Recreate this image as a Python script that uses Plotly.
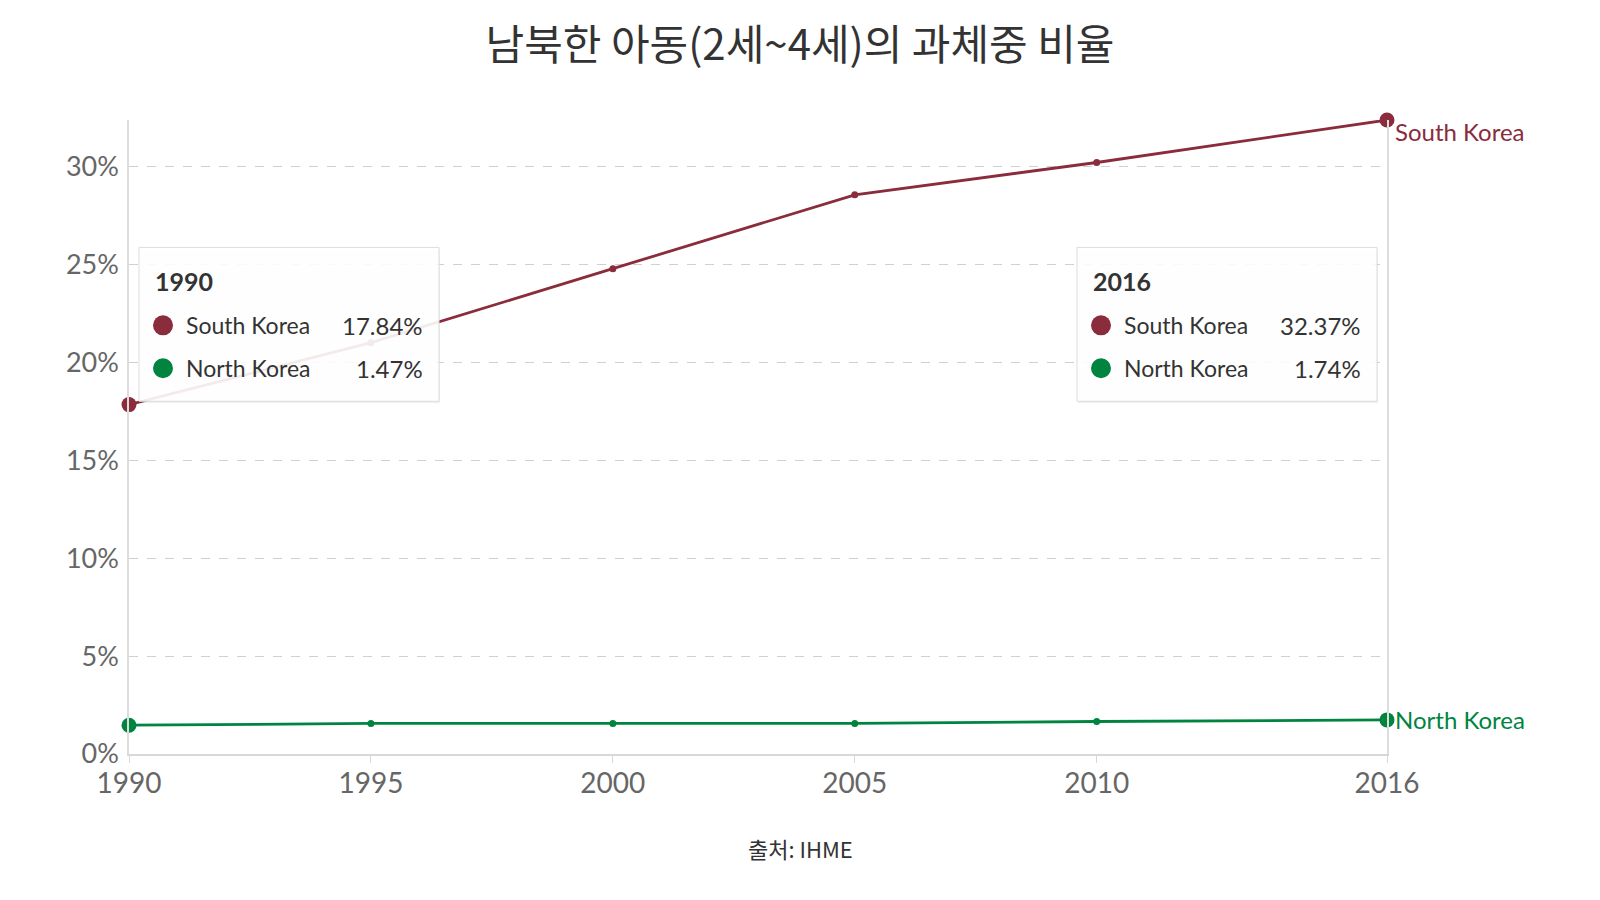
import plotly.graph_objects as go

# 데이터
years = [1990, 1995, 2000, 2005, 2010, 2016]
south_korea = [17.84, 21.0, 24.78, 28.55, 30.2, 32.37]
north_korea = [1.47, 1.56, 1.56, 1.56, 1.66, 1.74]
y_ticks = [0, 5, 10, 15, 20, 25, 30]

SK_COLOR = "#8a2c3b"
NK_COLOR = "#00843f"
W, H = 1600, 900

# 플롯 영역 (픽셀)
L, R, T, B = 121, 221, 111.5, 154
PW = W - L - R
PH = H - T - B


def px(x):
    return (x - L) / PW


def py(y):
    return (H - B - y) / PH


fig = go.Figure()

series = [("South Korea", south_korea, SK_COLOR), ("North Korea", north_korea, NK_COLOR)]
for name, vals, color in series:
    fig.add_trace(go.Scatter(
        x=years, y=vals, name=name, mode="lines+markers",
        line=dict(color=color, width=2.8),
        marker=dict(color=color, size=7, opacity=1),
        cliponaxis=False, showlegend=False,
    ))
    # 양 끝 큰 점
    fig.add_trace(go.Scatter(
        x=[years[0], years[-1]], y=[vals[0], vals[-1]], mode="markers",
        marker=dict(color=color, size=15, opacity=1),
        cliponaxis=False, showlegend=False, hoverinfo="skip",
    ))
    # 오른쪽 끝 라벨
    fig.add_annotation(
        x=years[-1], y=vals[-1], text=name, showarrow=False,
        xanchor="left", yanchor="middle", xshift=6,
        yshift=-11 if name == "South Korea" else 0,
        font=dict(family="Lato", size=24, color=color),
    )

shapes = []


def add_tooltip(year, left):
    i = years.index(year)
    top, bottom = 239, 393
    # 그림자 + 박스
    shapes.append(dict(type="rect", xref="paper", yref="paper", layer="above",
                       x0=px(left + 1), x1=px(left + 301), y0=py(top + 2), y1=py(bottom + 2),
                       line=dict(width=0), fillcolor="rgba(0,0,0,0.06)"))
    shapes.append(dict(type="rect", xref="paper", yref="paper", layer="above",
                       x0=px(left), x1=px(left + 300), y0=py(top), y1=py(bottom),
                       line=dict(color="#dddddd", width=1), fillcolor="rgba(255,255,255,0.9)"))
    fig.add_annotation(xref="paper", yref="paper", x=px(left + 14), y=py(273),
                       text="<b>%d</b>" % year, showarrow=False, xanchor="left", yanchor="middle",
                       font=dict(family="Lato", size=25, color="#333333"))
    for row, (name, vals, color) in zip([317, 360], series):
        shapes.append(dict(type="circle", xref="paper", yref="paper", layer="above",
                           x0=px(left + 14), x1=px(left + 34), y0=py(row - 10), y1=py(row + 10),
                           line=dict(width=0), fillcolor=color))
        fig.add_annotation(xref="paper", yref="paper", x=px(left + 45), y=py(row),
                           text=name, showarrow=False, xanchor="left", yanchor="middle",
                           font=dict(family="Lato", size=23, color="#333333"))
        fig.add_annotation(xref="paper", yref="paper", x=px(left + 286), y=py(row),
                           text="%.2f%%" % vals[i], showarrow=False, xanchor="right", yanchor="middle",
                           font=dict(family="Lato", size=24, color="#333333"))


add_tooltip(1990, 131)
add_tooltip(2016, 1069)

# 출처
fig.add_annotation(xref="paper", yref="paper", x=px(792), y=py(840),
                   text="출처: IHME", showarrow=False, xanchor="center", yanchor="middle",
                   font=dict(family="Noto Sans CJK KR", size=22, color="#333333"))

fig.update_layout(
    width=W, height=H,
    paper_bgcolor="white", plot_bgcolor="white",
    margin=dict(l=L, r=R, t=T, b=B),
    title=dict(text="남북한 아동(2세~4세)의 과체중 비율", x=792 / W, xanchor="center",
               y=1 - 37 / H, yanchor="middle", yref="container",
               font=dict(family="Noto Sans CJK KR", size=42, color="#333333")),
    shapes=shapes,
    xaxis=dict(range=[years[0], years[-1]], tickvals=years, showgrid=False, zeroline=False,
               showline=True, linecolor="#d8d8d8", linewidth=1.5,
               ticks="outside", ticklen=7, tickcolor="#d8d8d8", ticklabelstandoff=-3,
               tickfont=dict(family="Lato", size=28, color="#666666")),
    yaxis=dict(range=[0, max(south_korea)], tickvals=y_ticks,
               ticktext=["%d%%" % v for v in y_ticks],
               showgrid=True, gridcolor="#d0d0d0", griddash="dash", gridwidth=1,
               zeroline=False, showline=True, mirror=True, linecolor="#dddddd", linewidth=1.5,
               ticks="", ticklabelstandoff=3,
               tickfont=dict(family="Lato", size=27, color="#666666")),
)

fig.write_html("out.html")
